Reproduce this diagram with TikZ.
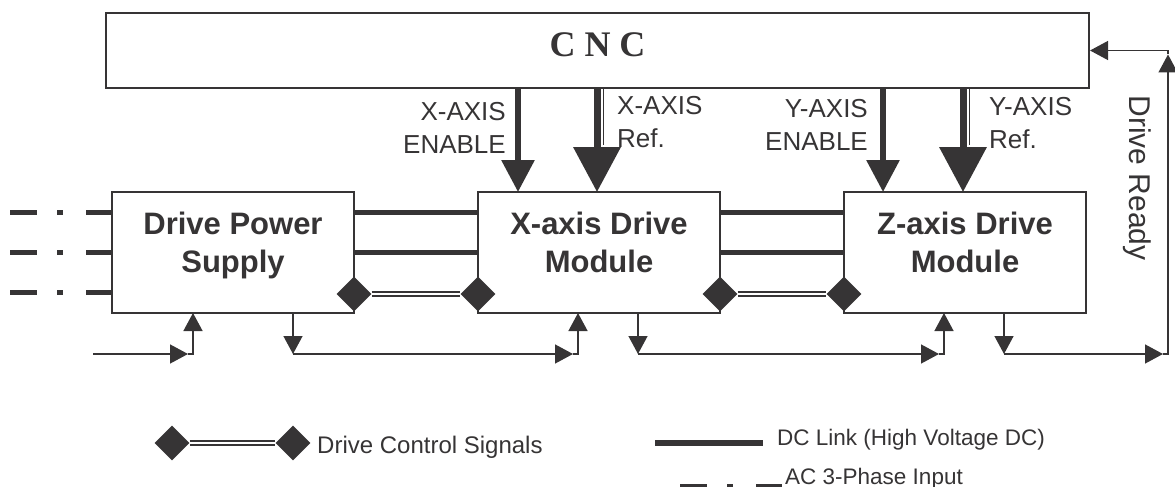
\documentclass[tikz,border=0pt]{standalone}
\usepackage{fontspec}
\setmainfont{Liberation Sans}
\newfontfamily\cncfont{Liberation Serif}
\usetikzlibrary{shapes.geometric,arrows.meta,calc}
\definecolor{ink}{HTML}{363435}
\tikzset{
  module/.style={draw=ink, line width=1.6pt, minimum width=242pt, minimum height=121pt, anchor=north west, inner sep=0pt, outer sep=0pt},
  modtext/.style={text=ink, align=center, inner sep=0pt, anchor=north, font=\fontsize{31}{38}\selectfont\bfseries},
  sigtext/.style={text=ink, inner sep=0pt, font=\fontsize{26}{33}\selectfont},
  legtext/.style={text=ink, inner sep=0pt, anchor=base west, font=\fontsize{22.5}{27}\selectfont},
  dclink/.style={draw=ink, line width=5pt},
  acline/.style={draw=ink, line width=5pt, dash pattern=on 27pt off 20pt on 6pt off 23pt on 26pt},
  ctrl/.style={diamond, fill=ink, minimum size=35pt, inner sep=0pt},
  ctrlline/.style={draw=ink, line width=1.3pt, double=white, double distance=2.6pt},
  enable/.style={draw=ink, line width=6pt, -{Triangle[length=32pt,width=32pt]}},
  refline/.style={draw=ink, line width=7pt, -{Triangle[length=45pt,width=46pt]}},
  sig/.style={draw=ink, line width=1.4pt, -{Triangle[length=18pt,width=19pt]}},
}
\begin{document}
\begin{tikzpicture}[x=1pt,y=-1pt]
\useasboundingbox (0,0) rectangle (1175,487);

\node[draw=ink, line width=2pt, minimum width=983pt, minimum height=75pt, anchor=north west, text=ink, text depth=11pt, font=\cncfont\bfseries\fontsize{36}{40}\selectfont] (cnc) at (105,12) {C N C};

\node[module] (ps) at (112,192) {};
\node[module] (xm) at (478,192) {};
\node[module] (zm) at (844,192) {};
\node[modtext] (ps-t) at ($(ps.north)+(0,20)$) {Drive Power\\Supply};
\node[modtext] (xm-t) at ($(xm.north)+(0,20)$) {X-axis Drive\\Module};
\node[modtext] (zm-t) at ($(zm.north)+(0,20)$) {Z-axis Drive\\Module};

\draw[acline] ($(ps.north west)+(-102,20)$) -- ($(ps.north west)+(0,20)$);
\draw[acline] ($(ps.north west)+(-102,60)$) -- ($(ps.north west)+(0,60)$);
\draw[acline] ($(ps.north west)+(-102,100)$) -- ($(ps.north west)+(0,100)$);

\draw[dclink] ($(ps.north east)+(0,20)$) -- ($(xm.north west)+(0,20)$);
\draw[dclink] ($(ps.north east)+(0,60)$) -- ($(xm.north west)+(0,60)$);
\draw[dclink] ($(xm.north east)+(0,20)$) -- ($(zm.north west)+(0,20)$);
\draw[dclink] ($(xm.north east)+(0,60)$) -- ($(zm.north west)+(0,60)$);

\node[ctrl] (ps-c) at ($(ps.south east)+(0,-19)$) {};
\node[ctrl] (xm-cl) at ($(xm.south west)+(0,-19)$) {};
\node[ctrl] (xm-cr) at ($(xm.south east)+(0,-19)$) {};
\node[ctrl] (zm-c) at ($(zm.south west)+(0,-19)$) {};
\draw[ctrlline] (ps-c) -- (xm-cl);
\draw[ctrlline] (xm-cr) -- (zm-c);

\coordinate (xen) at ($(xm.north west)+(40,0)$);
\coordinate (xref) at ($(xm.north west)+(119,0)$);
\coordinate (yen) at ($(zm.north west)+(39,0)$);
\coordinate (yref) at ($(zm.north west)+(119,0)$);
\draw[enable] (cnc.south -| xen) -- (xen);
\draw[refline] (cnc.south -| xref) -- (xref);
\draw[ink, line width=1.5pt] ($(cnc.south -| xref)+(6.5,0)$) -- ($(xref)+(6.5,-47)$);
\draw[enable] (cnc.south -| yen) -- (yen);
\draw[refline] (cnc.south -| yref) -- (yref);
\draw[ink, line width=1.5pt] ($(cnc.south -| yref)+(6.5,0)$) -- ($(yref)+(6.5,-47)$);

\node[sigtext, align=right, anchor=east] (xen-t) at (506,128) {X-AXIS\\ENABLE};
\node[sigtext, align=left, anchor=west] (xref-t) at (617,122) {X-AXIS\\Ref.};
\node[sigtext, align=right, anchor=east] (yen-t) at (868,125) {Y-AXIS\\ENABLE};
\node[sigtext, align=left, anchor=west] (yref-t) at (989,123) {Y-AXIS\\Ref.};

\coordinate (in0) at (93,354);
\coordinate (psin) at ($(ps.south west)+(81,0)$);
\coordinate (psout) at ($(ps.south west)+(181,0)$);
\coordinate (xin) at ($(xm.south west)+(100,0)$);
\coordinate (xout) at ($(xm.south west)+(160,0)$);
\coordinate (zin) at ($(zm.south west)+(100,0)$);
\coordinate (zout) at ($(zm.south west)+(160,0)$);
\coordinate (rdy) at (1168,354);

\draw[sig] (in0) -- ($(in0 -| psin)+(-5,0)$);
\draw[sig] ($(in0 -| psin)+(-5,0)$) -| (psin);
\draw[sig] (psout) -- (psout |- in0);
\draw[sig] (psout |- in0) -- ($(in0 -| xin)+(-5,0)$);
\draw[sig] ($(in0 -| xin)+(-5,0)$) -| (xin);
\draw[sig] (xout) -- (xout |- in0);
\draw[sig] (xout |- in0) -- ($(in0 -| zin)+(-5,0)$);
\draw[sig] ($(in0 -| zin)+(-5,0)$) -| (zin);
\draw[sig] (zout) -- (zout |- in0);
\draw[sig] (zout |- in0) -- ($(rdy)+(-5,0)$);
\draw[sig] ($(rdy)+(-5,0)$) -| ($(cnc.east -| rdy)+(0,4)$);
\draw[sig] ($(cnc.east -| rdy)+(0,4)$) |- (cnc.east);
\node[rotate=-90, text=ink, inner sep=0pt, font=\fontsize{30}{36}\selectfont] (rdy-t) at (1137,178) {Drive Ready};

\node[ctrl] (lg-c1) at (172,443) {};
\node[ctrl] (lg-c2) at (293,443) {};
\draw[ctrlline] (lg-c1) -- (lg-c2);
\node[legtext, font=\fontsize{24}{28}\selectfont] (lg-ctrl) at (317,453) {Drive Control Signals};
\coordinate (lg-dc1) at (655,443);
\coordinate (lg-dc2) at (763,443);
\draw[dclink, line width=6.5pt] (lg-dc1) -- (lg-dc2);
\node[legtext] (lg-dc) at (777,445) {DC Link (High Voltage DC)};
\coordinate (lg-ac1) at (680,486);
\coordinate (lg-ac2) at (782,486);
\draw[acline] (lg-ac1) -- (lg-ac2);
\node[legtext] (lg-ac) at (785,484) {AC 3-Phase Input};
\end{tikzpicture}
\end{document}
